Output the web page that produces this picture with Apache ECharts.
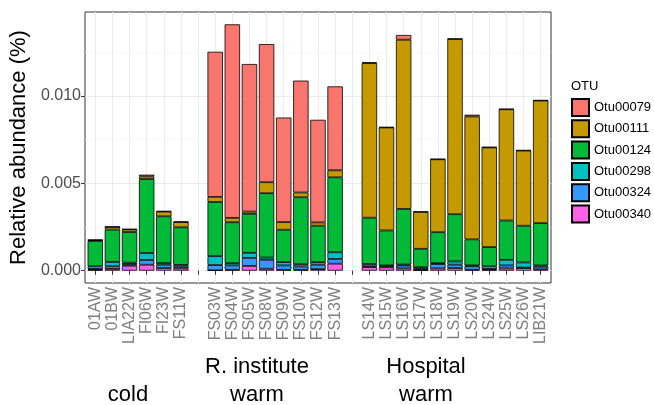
<!DOCTYPE html>
<html><head><meta charset="utf-8">
<script src="https://cdn.jsdelivr.net/npm/echarts@6/dist/echarts.min.js"></script>
<style>html,body{margin:0;padding:0;background:#fff}#c{width:654px;height:405px}</style>
</head><body><div id="c"></div>
<script>
// Sample names (blank entries are the spacer positions between groups)
const categories = ['01AW','01BW','LIA22W','FI06W','FI23W','FS11W',' ',
  'FS03W','FS04W','FS05W','FS08W','FS09W','FS10W','FS12W','FS13W','  ',
  'LS14W','LS15W','LS16W','LS17W','LS18W','LS19W','LS20W','LS24W','LS25W','LS26W','LIB21W'];
const otuNames = ['Otu00079','Otu00111','Otu00124','Otu00298','Otu00324','Otu00340'];
// relative abundance values (%)
const otu00340 = [0.00005,0.00010,0.00028,0.00034,0.00015,0.00013,null,
  0.00002,0.00005,0.00027,0.00011,0.00005,0.00005,0.00009,0.00040,null,
  0.00020,0.00019,0.00013,0.00003,0.00013,0.00015,0.00005,0.00005,0.00013,0.00015,0.00008];
const otu00324 = [0.00005,0.00015,0.00010,0.00027,0.00019,0.00010,null,
  0.00030,0.00025,0.00046,0.00051,0.00025,0.00019,0.00025,0.00027,null,
  0.00005,0.00006,0.00017,0.00007,0.00025,0.00019,0.00020,0.00005,0.00017,0.00003,0.00015];
const otu00298 = [0.00015,0.00025,0.00008,0.00040,0.00010,0.00010,null,
  0.00051,0.00013,0.00029,0.00013,0.00019,0.00013,0.00015,0.00038,null,
  0.00013,0.00005,0.00005,0.00010,0.00005,0.00019,0.00005,0.00015,0.00032,0.00029,0.00007];
const otu00124 = [0.00145,0.00185,0.00175,0.00423,0.00267,0.00215,null,
  0.00310,0.00234,0.00223,0.00368,0.00185,0.00383,0.00208,0.00429,null,
  0.00265,0.00200,0.00318,0.00105,0.00177,0.00270,0.00149,0.00110,0.00225,0.00210,0.00242];
const otu00111 = [0.00005,0.00015,0.00015,0.00015,0.00027,0.00030,null,
  0.00029,0.00025,0.00013,0.00063,0.00044,0.00027,0.00019,0.00040,null,
  0.00884,0.00589,0.00968,0.00211,0.00417,0.01002,0.00703,0.00570,0.00636,0.00430,0.00701];
const otu00079 = [0.00002,0.00002,0.00002,0.00010,0.00003,0.00003,null,
  0.00830,0.01107,0.00844,0.00790,0.00598,0.00640,0.00587,0.00480,null,
  0.00005,0.00002,0.00027,0.00002,0.00002,0.00002,0.00010,0.00002,0.00002,0.00002,0.00002];
const yTicks = [0, 0.005, 0.010];
const yMinor = [0.0025, 0.0075, 0.0125];
const groupLabels = ['cold', 'R. institute\nwarm', 'Hospital\nwarm'];

const colors = {Otu00079:'#F8766D',Otu00111:'#C49A00',Otu00124:'#00BA38',Otu00298:'#00C0C0',Otu00324:'#3399FF',Otu00340:'#FF61E6'};
const FONT = 'Liberation Sans, Arial, Helvetica, sans-serif';
const yMin = -0.000705, yMax = 0.014795;

const stackOrder = [['Otu00340',otu00340],['Otu00324',otu00324],['Otu00298',otu00298],
  ['Otu00124',otu00124],['Otu00111',otu00111],['Otu00079',otu00079]];

const series = stackOrder.map(([name, data]) => ({
  name, type:'bar', stack:'total', xAxisIndex:1, yAxisIndex:2,
  data: data.map(v => v === null ? '-' : v),
  barWidth: 15.4, clip:false,
  itemStyle:{color:colors[name], borderColor:'#000', borderWidth:0.8},
  emphasis:{disabled:true}
}));

const chart = echarts.init(document.getElementById('c'), null, {renderer:'canvas'});
chart.setOption({
  animation:false,
  textStyle:{fontFamily:FONT},
  grid:[
    {left:85, top:12, width:466, height:271, show:true, backgroundColor:'#fff', borderColor:'#333', borderWidth:1, containLabel:false},
    {left:95.28, top:12, width:445.4, height:271, containLabel:false}
  ],
  xAxis:[
    {gridIndex:0, type:'value', min:0, max:1, show:false},
    {gridIndex:1, type:'category', data:categories, boundaryGap:false,
     axisLine:{show:false},
     axisTick:{show:true, interval:0, length:4, lineStyle:{color:'#333', width:1}},
     axisLabel:{interval:0, rotate:90, fontSize:16, color:'#7f7f7f', margin:4, fontFamily:FONT},
     splitLine:{show:true, interval:0, lineStyle:{color:'#ebebeb', width:1}}}
  ],
  yAxis:[
    {gridIndex:0, type:'value', min:yMin, max:yMax, position:'left',
     name:'Relative abundance (%)', nameLocation:'middle', nameRotate:90, nameGap:52,
     nameTextStyle:{fontSize:22, color:'#000', fontFamily:FONT},
     axisLine:{show:false},
     axisTick:{show:true, length:4, customValues:yTicks, lineStyle:{color:'#333'}},
     axisLabel:{customValues:yTicks, fontSize:16, color:'#4d4d4d', margin:4, fontFamily:FONT,
       formatter:v=>v.toFixed(3)},
     splitLine:{show:true, lineStyle:{color:'#ebebeb', width:1}}},
    {gridIndex:0, type:'value', min:yMin, max:yMax, position:'right',
     axisLine:{show:false}, axisLabel:{show:false},
     axisTick:{show:false, customValues:yMinor},
     splitLine:{show:true, lineStyle:{color:'#f5f5f5', width:0.6}}},
    {gridIndex:1, type:'value', min:yMin, max:yMax, show:false, splitLine:{show:false}}
  ],
  legend:{
    orient:'vertical', left:571, top:98, padding:0,
    itemWidth:17, itemHeight:17, itemGap:2.3, icon:'rect',
    data:otuNames, selectedMode:false,
    textStyle:{fontSize:13, color:'#000', fontFamily:FONT}
  },
  graphic:[
    {type:'text', left:571, top:80, style:{text:'OTU', fontSize:13, fill:'#000', fontFamily:FONT}},
    {type:'text', x:128, y:395, style:{text:groupLabels[0], fontSize:22, fill:'#000', fontFamily:FONT, textAlign:'center', textVerticalAlign:'middle'}},
    {type:'text', x:257, y:381, style:{text:groupLabels[1], fontSize:22, lineHeight:28, fill:'#000', fontFamily:FONT, textAlign:'center', textVerticalAlign:'middle'}},
    {type:'text', x:426, y:381, style:{text:groupLabels[2], fontSize:22, lineHeight:28, fill:'#000', fontFamily:FONT, textAlign:'center', textVerticalAlign:'middle'}}
  ],
  series
});
</script></body></html>
